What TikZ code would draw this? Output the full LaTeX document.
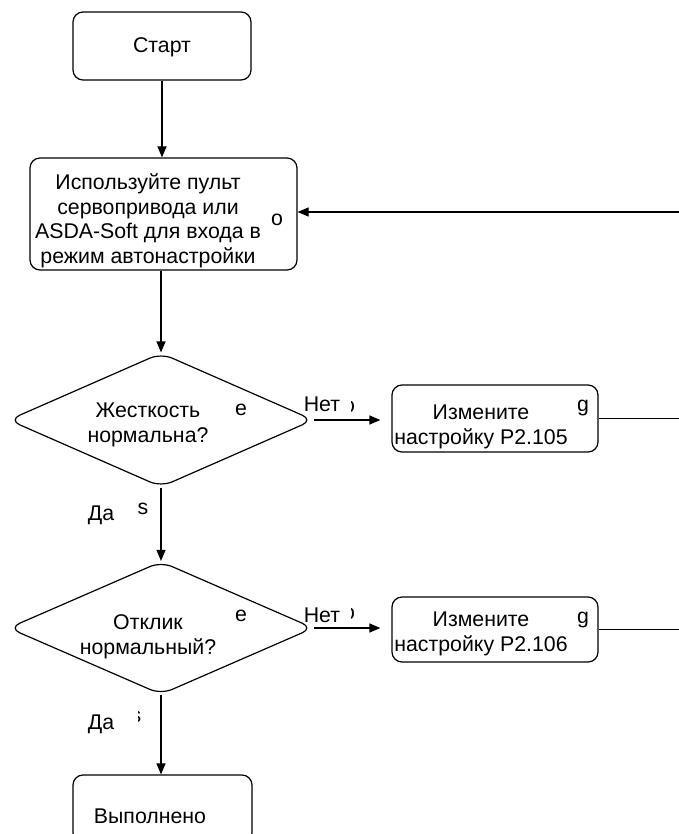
\documentclass[tikz,border=0pt]{standalone}
\usepackage{fontspec}
\setmainfont{Liberation Sans}
\usetikzlibrary{shapes.geometric,arrows.meta}

\tikzset{
	block/.style={draw,line width=1.2pt,rounded corners=10pt,inner sep=0pt},
	decision/.style={draw,line width=1.2pt,diamond,rounded corners=12pt,inner sep=0pt,aspect=2.25,minimum width=305pt,minimum height=134pt},
	txt/.style={align=center,inner sep=0pt,font=\fontsize{21.3}{24.5}\selectfont},
	flow/.style={line width=1.2pt,-{Triangle[length=11pt,width=9pt]}},
	link/.style={line width=1.2pt}
}

\begin{document}
\begin{tikzpicture}[x=1pt,y=-1pt]

	\useasboundingbox (0,0) rectangle (678,834);

	% blocks
	\node[block,minimum width=178pt,minimum height=68pt] (start) at (162,46) {};
	\node[block,minimum width=267pt,minimum height=112pt] (tune) at (163.5,214) {};
	\node[decision] (stiff) at (161,420) {};
	\node[block,minimum width=206pt,minimum height=67pt] (setA) at (495,418.5) {};
	\node[decision,minimum height=133pt] (resp) at (161,628) {};
	\node[block,minimum width=206pt,minimum height=65pt] (setB) at (495,629.5) {};
	\node[block,minimum width=179pt,minimum height=68pt] (done) at (162.5,809) {};

	% texts
	\node[txt] (startlbl) at (162,47) {Старт};
	\node[txt] (tunelbl) at (148,221) {Используйте пульт\\сервопривода или\\ASDA-Soft для входа в\\режим автонастройки};
	\node[txt] (stifflbl) at (148,425) {Жесткость\\нормальна?};
	\node[txt] (setAlbl) at (481,427) {Измените\\настройку P2.105};
	\node[txt] (resplbl) at (148,637) {Отклик\\нормальный?};
	\node[txt] (setBlbl) at (481,634) {Измените\\настройку P2.106};
	\node[txt] (donelbl) at (150,816) {Выполнено};

	% stray letters
	\node[txt] (strayO) at (277,220) {o};
	\node[txt] (strayE1) at (241,410) {e};
	\node[txt] (strayE2) at (241,616) {e};
	\node[txt] (strayG1) at (583,408) {g};
	\node[txt] (strayG2) at (583,620) {g};
	\node[txt] (strayS1) at (143,509) {s};
	\begin{scope}
		\clip (351,395) rectangle (364,420);
		\node[txt] (strayC1) at (349,407) {o};
	\end{scope}
	\begin{scope}
		\clip (351,602) rectangle (364,627);
		\node[txt] (strayC2) at (349,614) {o};
	\end{scope}
	\begin{scope}
		\clip (138,705) rectangle (150,730);
		\node[txt] (strayS2) at (136,717) {s};
	\end{scope}

	% branch labels
	\node[txt] (noA) at (322,404) {Нет};
	\node[txt] (noB) at (322,615) {Нет};
	\node[txt] (yesA) at (101,515) {Да};
	\node[txt] (yesB) at (101,724) {Да};

	% free ends at the right edge
	\coordinate (back) at (700,212);
	\coordinate (outA) at (700,418.5);
	\coordinate (outB) at (700,629.5);

	% connectors
	\draw[flow] (start.south) -- (start.south |- tune.north);
	\draw[flow] (stiff.north |- tune.south) -- (stiff.north);
	\draw[flow] (stiff.south) -- (resp.north);
	\draw[flow] (resp.south) -- (resp.south |- done.north);
	\draw[flow,shorten >=11pt] (stiff.east) -- (stiff.east -| setA.west);
	\draw[flow,shorten >=11pt] (resp.east) -- (resp.east -| setB.west);
	\draw[link] (setA.east) -- (outA);
	\draw[link] (setB.east) -- (outB);
	\draw[flow] (back) -- (back -| tune.east);

\end{tikzpicture}
\end{document}
